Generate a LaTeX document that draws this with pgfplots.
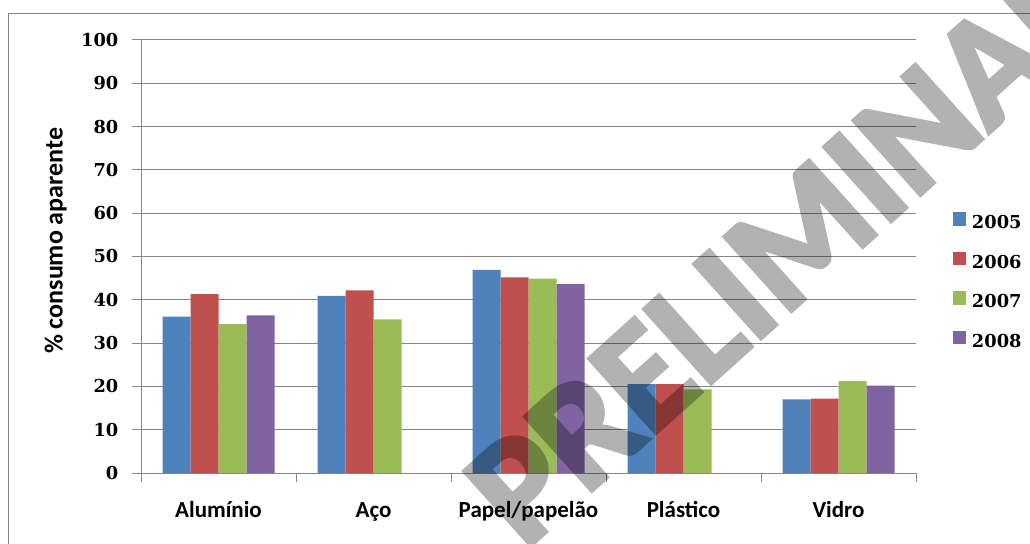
\documentclass[border=0pt]{standalone}
\usepackage{pgfplots}
\pgfplotsset{compat=1.18}
\usepackage{fontspec}
\setmainfont{Carlito}
\newfontfamily\numfont{DejaVu Serif}
\newfontfamily\wmfont{Carlito}[BoldFeatures={FakeBold=3}]
\definecolor{cA}{HTML}{4F81BD}
\definecolor{cB}{HTML}{C0504D}
\definecolor{cC}{HTML}{9BBB59}
\definecolor{cD}{HTML}{8064A2}
\definecolor{gridgray}{HTML}{868686}
\begin{document}
\begin{tikzpicture}
\useasboundingbox (0,0) rectangle (772.5pt,407.25pt);
\fill[white] (0,0) rectangle (772.5pt,407.25pt);
\draw[gridgray, line width=0.75pt] (6.25pt,-2pt) -- (6.25pt,396.9pt) -- (780pt,396.9pt);
\begin{axis}[
  at={(105.75pt,52.5pt)}, anchor=south west,
  scale only axis, width=581.25pt, height=324.75pt,
  xmin=-0.5, xmax=4.5, ymin=0, ymax=100,
  ybar=0pt, bar width=21pt,
  xtick={0,1,2,3,4},
  xticklabels={Alumínio,Aço,Papel/papelão,Plástico,Vidro},
  minor xtick={-0.5,0.5,1.5,2.5,3.5,4.5},
  ytick={0,10,...,100},
  ymajorgrids, grid style={gridgray, line width=0.75pt},
  axis x line*=bottom, axis y line*=left,
  axis line style={gridgray, line width=0.75pt, -},
  tick align=outside, major tick length=6.75pt, minor tick length=6.75pt,
  tick style={gridgray, line width=0.75pt},
  major x tick style={draw=none},
  /pgf/number format/assume math mode=true,
  yticklabel style={font=\numfont\bfseries\fontsize{13.35}{15}\selectfont, anchor=east, xshift=-6.75pt},
  xticklabel style={font=\bfseries\fontsize{17.25}{20}\selectfont, anchor=base, yshift=-26.25pt},
  ylabel={\% consumo aparente},
  every axis y label/.style={at={(axis description cs:-0.110,0.536)}, rotate=90, anchor=center, font=\bfseries\fontsize{19.5}{22}\selectfont},
  legend style={draw=none, fill=none, inner sep=0pt, outer sep=0pt,
    at={(axis description cs:1.0477,0.446)}, anchor=west,
    font=\numfont\bfseries\fontsize{13.35}{15}\selectfont,
    nodes={inner sep=0pt, text height=9.75pt, text depth=0pt},
    row sep=17.25pt},
  legend cell align=left,
  legend image code/.code={\fill[#1] (0pt,-2.5pt) rectangle (10pt,7.5pt); \path (14.25pt,0pt);},
]
\addplot[fill=cA, draw=none] coordinates {(0,36.1) (1,40.9) (2,46.9) (3,20.5) (4,17.0)};
\addplot[fill=cB, draw=none] coordinates {(0,41.3) (1,42.2) (2,45.2) (3,20.5) (4,17.2)};
\addplot[fill=cC, draw=none] coordinates {(0,34.4) (1,35.5) (2,44.9) (3,19.3) (4,21.2)};
\addplot[fill=cD, draw=none] coordinates {(0,36.4) (2,43.6) (4,20.2)};
\legend{2005,2006,2007,2008}
\end{axis}
\begin{scope}[transparency group, opacity=0.3]
\clip (0,0) rectangle (772.5pt,407.25pt);
\node[rotate=42, text=black, inner sep=0pt,
  font=\wmfont\bfseries\fontsize{115}{115}\selectfont] at (592.5pt,223.5pt) {PRELIMINAR};
\end{scope}
\end{tikzpicture}
\end{document}
